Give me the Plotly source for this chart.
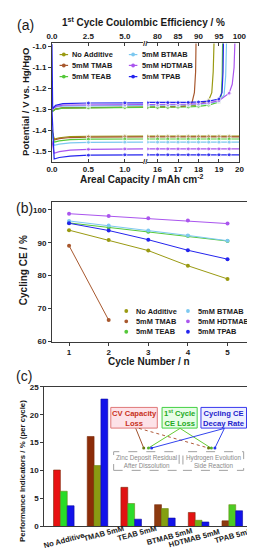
import plotly.graph_objects as go

W, H = 255, 550
FONT = "Liberation Sans"
AXC = "#3a3a3a"
TXT = "#1a1a1a"

# ---------------- Panel (a) data: potential vs areal capacity ----------------
A_NAMES = ["No Additive", "5mM TMAB", "5mM TEAB", "5mM BTMAB", "5mM HDTMAB", "5mM TPAB"]
A_MARKER_X = [0.5, 1.0, 15.5, 16.0, 16.5, 17.0, 17.5, 18.0, 18.5, 19.0, 19.5]

noadd_up_x = [0.0, 0.05, 0.15, 0.5, 1.0, 1.25, 15.5, 16.0, 16.5, 17.0, 17.5, 18.0, 18.5, 18.65, 18.72, 18.76]
noadd_up_y = [-1.308, -1.297, -1.292, -1.289, -1.288, -1.288, -1.288, -1.288, -1.287, -1.286, -1.284, -1.278, -1.256, -1.22, -1.12, -0.98]
tmab_up_x = [0.0, 0.05, 0.15, 0.5, 1.0, 1.25, 15.5, 16.0, 16.5, 17.0, 17.5, 17.68, 17.8, 17.86, 17.88]
tmab_up_y = [-1.31, -1.298, -1.292, -1.29, -1.289, -1.289, -1.289, -1.289, -1.288, -1.286, -1.28, -1.268, -1.22, -1.12, -0.98]
teab_up_x = [0.0, 0.05, 0.15, 0.5, 1.0, 1.25, 15.5, 16.0, 16.5, 17.0, 17.5, 18.0, 18.5, 19.0, 19.12, 19.16, 19.18]
teab_up_y = [-1.31, -1.299, -1.293, -1.291, -1.29, -1.29, -1.29, -1.29, -1.29, -1.289, -1.288, -1.285, -1.279, -1.264, -1.23, -1.14, -0.98]
btmab_up_x = [0.0, 0.05, 0.15, 0.5, 1.0, 1.25, 15.5, 16.0, 16.5, 17.0, 17.5, 18.0, 18.5, 19.0, 19.25, 19.33, 19.37]
btmab_up_y = [-1.30, -1.289, -1.284, -1.282, -1.281, -1.28, -1.28, -1.28, -1.28, -1.279, -1.278, -1.276, -1.271, -1.26, -1.232, -1.14, -0.98]
hdtmab_up_x = [0.0, 0.05, 0.15, 0.5, 1.0, 1.25, 15.5, 16.0, 16.5, 17.0, 17.5, 18.0, 18.5, 19.0, 19.5, 19.65, 19.74, 19.78]
hdtmab_up_y = [-1.30, -1.286, -1.279, -1.277, -1.276, -1.276, -1.276, -1.276, -1.276, -1.275, -1.274, -1.272, -1.268, -1.258, -1.222, -1.18, -1.10, -0.98]
tpab_up_x = [0.0, 0.01, 0.05, 0.15, 0.5, 1.0, 1.25, 15.5, 16.0, 16.5, 17.0, 17.5, 18.0, 18.5, 19.0, 19.15, 19.2, 19.22]
tpab_up_y = [-0.99, -1.295, -1.28, -1.272, -1.269, -1.268, -1.268, -1.268, -1.268, -1.267, -1.267, -1.266, -1.264, -1.26, -1.25, -1.22, -1.12, -0.98]

lower_x = [0.0, 0.03, 0.1, 0.25, 0.5, 1.0, 1.25, 15.5, 16.0, 16.5, 17.0, 17.5, 18.0, 18.5, 19.0, 19.5, 20.0]
noadd_lo_y = [-1.395, -1.44, -1.434, -1.429, -1.427, -1.426, -1.426, -1.426, -1.426, -1.426, -1.426, -1.426, -1.426, -1.426, -1.426, -1.426, -1.426]
tmab_lo_y = [-1.40, -1.445, -1.438, -1.433, -1.431, -1.43, -1.43, -1.43, -1.43, -1.43, -1.43, -1.43, -1.43, -1.43, -1.43, -1.43, -1.43]
teab_lo_y = [-1.40, -1.455, -1.449, -1.443, -1.441, -1.44, -1.44, -1.44, -1.44, -1.44, -1.44, -1.44, -1.44, -1.44, -1.44, -1.44, -1.44]
btmab_lo_y = [-1.41, -1.47, -1.464, -1.458, -1.456, -1.455, -1.455, -1.455, -1.455, -1.455, -1.455, -1.455, -1.455, -1.455, -1.455, -1.455, -1.455]
hdtmab_lo_y = [-1.45, -1.508, -1.50, -1.493, -1.489, -1.487, -1.487, -1.487, -1.487, -1.487, -1.487, -1.487, -1.487, -1.487, -1.487, -1.487, -1.487]
tpab_lo_y = [-1.30, -1.535, -1.528, -1.521, -1.517, -1.515, -1.515, -1.515, -1.515, -1.515, -1.515, -1.515, -1.515, -1.515, -1.515, -1.515, -1.515]

# top axis of (a): 1st-cycle coulombic efficiency (%) = capacity / 20 mAh cm-2 * 100
CE_PER_CAPACITY = 5.0

# ---------------- Panel (b) data: cycling CE ----------------
cycles = [1, 2, 3, 4, 5]
ce_noadd = [93.8, 90.8, 87.6, 83.0, 79.0]
ce_tmab = [89.1, 66.5]
ce_teab = [96.0, 94.6, 93.3, 92.0, 90.5]
ce_btmab = [96.6, 95.2, 93.7, 92.2, 90.6]
ce_hdtmab = [98.8, 98.1, 97.4, 96.7, 95.8]
ce_tpab = [95.9, 93.7, 90.9, 87.7, 85.0]

# ---------------- Panel (c) data: performance indicators ----------------
c_categories = ["No Additive", "TMAB 5mM", "TEAB 5mM", "BTMAB 5mM", "HDTMAB 5mM", "TPAB 5mM"]
cv_capacity_loss = [10.1, 16.1, 7.0, 3.9, 2.5, 1.0]
first_cycle_ce_loss = [6.3, 10.9, 4.1, 3.2, 1.1, 3.9]
cycling_ce_decay = [3.7, 22.8, 1.3, 1.5, 0.8, 2.8]

# ---------------- styles ----------------
COLORS = ["#9a9a12", "#a8582e", "#55c83a", "#7cc8f0", "#aa55ee", "#2424ee"]
RED_BARS = ["#e81212", "#8c2c08", "#e01212", "#8c3a10", "#e41212", "#8c3a10"]
GREEN_BARS = ["#28dc28", "#8a9a12", "#2cdc2c", "#84a012", "#70b014", "#4ccc24"]
BLUE_BAR = "#1212ea"
# label centre offsets (px) for the slanted category labels of (c)
C_LABEL_DX = [0, 6, 5.5, 5, -5, 2]
C_LABEL_Y = [537, 530, 530, 533, 535, 532]


def px(x):
    return x / W


def py(y):
    return 1 - y / H


fig = go.Figure()

up_data = [(noadd_up_x, noadd_up_y), (tmab_up_x, tmab_up_y), (teab_up_x, teab_up_y),
           (btmab_up_x, btmab_up_y), (hdtmab_up_x, hdtmab_up_y), (tpab_up_x, tpab_up_y)]
lo_data = [noadd_lo_y, tmab_lo_y, teab_lo_y, btmab_lo_y, hdtmab_lo_y, tpab_lo_y]

for i, name in enumerate(A_NAMES):
    ux, uy = up_data[i]
    for xa, ya in (("x", "y"), ("x2", "y2")):
        for xs, ys in ((ux, uy), (lower_x, lo_data[i])):
            sizes = [4 if v in A_MARKER_X else 0 for v in xs]
            fig.add_trace(go.Scatter(
                x=xs, y=ys, xaxis=xa, yaxis=ya, mode="lines+markers",
                line=dict(color=COLORS[i], width=1.2),
                marker=dict(color=COLORS[i], size=sizes),
                showlegend=False, name=name, hoverinfo="skip"))

# invisible copies on the CE (top) axes so that those axes are drawn
for xa, ya in (("x3", "y"), ("x4", "y2")):
    fig.add_trace(go.Scatter(
        x=[v * CE_PER_CAPACITY for v in noadd_up_x], y=noadd_up_y, xaxis=xa, yaxis=ya,
        mode="lines", line=dict(width=0, color="rgba(0,0,0,0)"),
        showlegend=False, hoverinfo="skip"))

b_series = [ce_noadd, ce_tmab, ce_teab, ce_btmab, ce_hdtmab, ce_tpab]
for i, name in enumerate(A_NAMES):
    ys = b_series[i]
    fig.add_trace(go.Scatter(
        x=cycles[:len(ys)], y=ys, xaxis="x5", yaxis="y5", mode="lines+markers",
        line=dict(color=COLORS[i], width=1),
        marker=dict(color=COLORS[i], size=4),
        showlegend=False, name=name))

fig.add_trace(go.Bar(x=c_categories, y=cv_capacity_loss, xaxis="x6", yaxis="y6",
                     marker=dict(color=RED_BARS, line=dict(color="#7a2a08", width=0.6)),
                     name="CV Capacity Loss", showlegend=False))
fig.add_trace(go.Bar(x=c_categories, y=first_cycle_ce_loss, xaxis="x6", yaxis="y6",
                     marker=dict(color=GREEN_BARS, line=dict(color="#6a8a10", width=0.6)),
                     name="1st Cycle CE Loss", showlegend=False))
fig.add_trace(go.Bar(x=c_categories, y=cycling_ce_decay, xaxis="x6", yaxis="y6",
                     marker=dict(color=BLUE_BAR, line=dict(color="#0a0aa0", width=0.6)),
                     name="Cycling CE Decay Rate", showlegend=False))

tickfont = dict(family=FONT, size=8, color=TXT, weight="bold")
common = dict(showgrid=False, zeroline=False, linecolor=AXC, linewidth=1,
              tickcolor=AXC, tickfont=tickfont, ticklen=3, tickwidth=1)

ya_dom = [py(152), py(32)]
layout = dict(
    width=W, height=H, margin=dict(l=0, r=0, t=0, b=0), autosize=False,
    paper_bgcolor="white", plot_bgcolor="white", showlegend=False,
    barmode="group", bargap=0.39, bargroupgap=0,
    xaxis=dict(domain=[px(40), px(136)], range=[0, 1.25], anchor="y",
               tickvals=[0, 0.5, 1.0], ticktext=["0.0", "0.5", "1.0"],
               showline=True, ticks="inside", **common),
    xaxis2=dict(domain=[px(140.5), px(237.5)], range=[15.5, 20], anchor="y2",
                tickvals=[16, 17, 18, 19, 20], showline=True, ticks="inside", **common),
    xaxis3=dict(overlaying="x", side="top", anchor="y", range=[0, 6.25],
                tickvals=[0, 2.5, 5.0], ticktext=["0.0", "2.5", "5.0"],
                showline=True, ticks="inside", **common),
    xaxis4=dict(overlaying="x2", side="top", anchor="y2", range=[77.5, 100],
                tickvals=[80, 85, 90, 95, 100], showline=True, ticks="inside", **common),
    yaxis=dict(domain=ya_dom, range=[-1.547, -0.986], anchor="x",
               tickvals=[-1.0, -1.1, -1.2, -1.3, -1.4, -1.5],
               ticktext=["-1.0", "-1.1", "-1.2", "-1.3", "-1.4", "-1.5"],
               showline=True, ticks="outside", **common),
    yaxis2=dict(domain=ya_dom, matches="y", anchor="x2", side="right",
                showticklabels=False, showline=True, ticks="", **common),
    xaxis5=dict(domain=[px(40), px(247)], range=[0.569, 5.527], anchor="y5",
                tickvals=[1, 2, 3, 4, 5], showline=True, mirror=True, ticks="outside", **common),
    yaxis5=dict(domain=[py(335), py(193)], range=[60, 102.4], anchor="x5",
                tickvals=[60, 70, 80, 90, 100], showline=True, mirror=True, ticks="outside", **common),
    xaxis6=dict(domain=[px(32), px(248)], range=[-0.577, 5.507], anchor="y6",
                showticklabels=False, showline=True, mirror=True, ticks="", **common),
    yaxis6=dict(domain=[py(523), py(381)], range=[0, 25], anchor="x6",
                tickvals=[0, 5, 10, 15, 20, 25], showline=True, mirror=True, ticks="outside", **common),
)
fig.update_layout(**layout)

ann = []
shapes = []


def text(x, y, s, size=10, color=TXT, bold=True, angle=0, xanchor="center", yanchor="middle"):
    ann.append(dict(x=px(x), y=py(y), xref="paper", yref="paper", text=s, showarrow=False,
                    textangle=angle, xanchor=xanchor, yanchor=yanchor,
                    font=dict(family=FONT, size=size, color=color, weight="bold" if bold else "normal")))


# panel labels
text(12, 13, "(a)", size=14, bold=False)
text(11, 199, "(b)", size=14, bold=False)
text(11, 370, "(c)", size=14, bold=False)

# axis titles
text(136, 10, "1<sup>st</sup> Cycle Coulombic Efficiency / %", size=10)
text(135, 170, "Areal Capacity / mAh cm<sup>-2</sup>", size=10)
text(12, 91, "Potential / V vs. Hg/HgO", size=9.5, angle=-90)
text(142, 355, "Cycle Number / n", size=10)
text(10, 262, "Cycling CE / %", size=10, angle=-90)
text(9, 467, "Performance Indicators / % (per cycle)", size=7.8, angle=-90)

# axis break marks
text(138.5, 32, "//", size=8)
text(138.5, 152, "//", size=8)

# legend (a)
leg_a = [(48, 43.3), (48, 54.3), (48, 65.7), (121, 43.3), (121, 54.3), (121, 65.7)]
for i, name in enumerate(A_NAMES):
    x0, y0 = leg_a[i]
    shapes.append(dict(type="line", xref="paper", yref="paper", x0=px(x0), x1=px(x0 + 9),
                       y0=py(y0), y1=py(y0), line=dict(color=COLORS[i], width=1.2)))
    shapes.append(dict(type="circle", xref="paper", yref="paper", x0=px(x0 + 2.5), x1=px(x0 + 6.5),
                       y0=py(y0 + 2), y1=py(y0 - 2), fillcolor=COLORS[i], line=dict(width=0)))
    text(x0 + 11.5, y0, name, size=7.4, xanchor="left")

# legend (b)
leg_b = [(118.3, 304), (118.3, 314.5), (118.3, 325), (183.3, 304), (183.3, 314.5), (183.3, 325)]
for i, name in enumerate(A_NAMES):
    x0, y0 = leg_b[i]
    shapes.append(dict(type="circle", xref="paper", yref="paper", x0=px(x0 - 2), x1=px(x0 + 2),
                       y0=py(y0 + 2), y1=py(y0 - 2), fillcolor=COLORS[i], line=dict(width=0)))
    text(x0 + 8, y0, name, size=7.4, xanchor="left")

# panel (c) category labels (slanted)
for i, cat in enumerate(c_categories):
    ann.append(dict(x=i, xref="x6", y=py(C_LABEL_Y[i]), yref="paper", xshift=C_LABEL_DX[i], text=cat,
                    showarrow=False, textangle=-15, xanchor="center", yanchor="middle",
                    font=dict(family=FONT, size=7.6, color=TXT, weight="bold")))

# panel (c) explanation boxes
boxes = [
    (102, 402, 151, 423, "#fde2e8", "#e07878", "#c83020", "CV Capacity<br>Loss"),
    (156, 402, 193, 423, "#e6fde6", "#44d044", "#22aa22", "1<sup>st</sup> Cycle<br>CE Loss"),
    (197, 402, 245, 423, "#eef0ff", "#3838ee", "#2222cc", "Cycling CE<br>Decay Rate"),
]
for x0, y0, x1, y1, fill, border, tcol, s in boxes:
    shapes.append(dict(type="rect", xref="paper", yref="paper", x0=px(x0), x1=px(x1),
                       y0=py(y1), y1=py(y0), fillcolor=fill, line=dict(color=border, width=1)))
    text((x0 + x1) / 2, (y0 + y1) / 2 + 0.5, s, size=7.6, color=tcol)

dboxes = [
    (105, 447, 174, 466, "Zinc Deposit Residual<br>After Dissolution"),
    (178, 447, 242, 466, "Hydrogen Evolution<br>Side Reaction"),
]
for x0, y0, x1, y1, s in dboxes:
    shapes.append(dict(type="rect", xref="paper", yref="paper", x0=px(x0), x1=px(x1),
                       y0=py(y1), y1=py(y0), fillcolor="white",
                       line=dict(color="#a0a0a0", width=1, dash="dash")))
    text((x0 + x1) / 2, (y0 + y1) / 2, s, size=6.3, color="#8a8a8a", bold=False)

links = [
    (128.3, 423.3, 136.7, 443.3, "#a0522d", "solid"),
    (131.7, 423.3, 205.0, 443.3, "#b05a3a", "dot"),
    (175.0, 423.3, 141.7, 443.3, "#66cc33", "solid"),
    (175.0, 423.3, 207.5, 443.3, "#66cc33", "solid"),
    (221.7, 423.3, 145.0, 443.3, "#3344ee", "solid"),
    (221.7, 423.3, 211.7, 443.3, "#3344ee", "solid"),
]
for x0, y0, x1, y1, col, dash in links:
    shapes.append(dict(type="line", xref="paper", yref="paper", x0=px(x0), x1=px(x1),
                       y0=py(y0), y1=py(y1), line=dict(color=col, width=1, dash=dash)))
dots = [(136.7, "#6a7a10"), (141.7, "#55b030"), (145.0, "#2233ee"),
        (205.0, "#6a7a10"), (208.0, "#55b030"), (211.7, "#2233ee")]
for x, col in dots:
    shapes.append(dict(type="circle", xref="paper", yref="paper", x0=px(x - 1.6), x1=px(x + 1.6),
                       y0=py(443.3 + 1.6), y1=py(443.3 - 1.6), fillcolor=col, line=dict(width=0)))

fig.update_layout(annotations=ann, shapes=shapes)
fig.write_html("out.html")
